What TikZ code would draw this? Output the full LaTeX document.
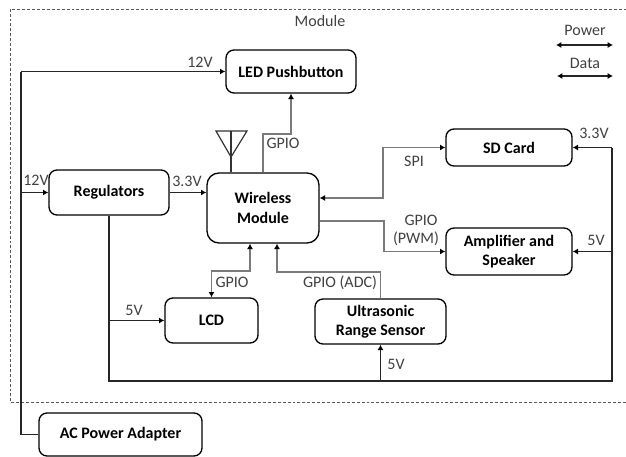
\documentclass[tikz,border=0pt]{standalone}
\usepackage{fontspec}
\setmainfont{Carlito}
\usetikzlibrary{arrows.meta}
\definecolor{labelc}{HTML}{404040}
\definecolor{datac}{HTML}{7A7A7A}
\tikzset{
  blockbox/.style={draw=black,line width=1pt,rounded corners=6pt,inner sep=0pt,align=center,font=\fontsize{12}{14.5}\selectfont\bfseries,text=black},
  lbl/.style={text=labelc,font=\fontsize{12}{14}\selectfont,inner sep=0pt},
  powerline/.style={draw=black!85,line width=1.3pt},
  dataline/.style={draw=datac,line width=0.9pt},
  tipend/.style={-{Latex[length=4pt,width=4.5pt,black]}},
  tipboth/.style={{Latex[length=4pt,width=4.5pt,black]}-{Latex[length=4pt,width=4.5pt,black]}}
}
\begin{document}
\begin{tikzpicture}[x=0.75pt,y=-0.75pt]
\useasboundingbox (0,0) rectangle (626,457);
\coordinate (mTL) at (10,9);
\coordinate (mTR) at (626,9);
\coordinate (mBL) at (10,402);
\coordinate (mBR) at (626,402);
\draw[draw=black!65,line width=0.6pt,dash pattern=on 2.2pt off 1.5pt] (mBR) -- (mBL) -- (mTL) -- (mTR);
\node[blockbox,minimum width=97.5pt,minimum height=32.25pt] (led) at (291,71.5) {LED Pushbutton};
\node[blockbox,minimum width=90pt,minimum height=33.75pt] (reg) at (109,192.5) {Regulators};
\node[blockbox,minimum width=84pt,minimum height=52.5pt,rounded corners=9pt] (wm) at (263,208) {Wireless\\Module};
\node[blockbox,minimum width=69.75pt,minimum height=33.75pt] (lcd) at (211.5,320.5) {LCD};
\node[blockbox,minimum width=98.25pt,minimum height=33.75pt] (us) at (380.5,321.5) {Ultrasonic\\Range Sensor};
\node[blockbox,minimum width=94.5pt,minimum height=27.75pt] (sd) at (509,147.5) {SD Card};
\node[blockbox,minimum width=94.5pt,minimum height=35.25pt] (amp) at (509,251.5) {Amplifier and\\Speaker};
\node[blockbox,minimum width=122.25pt,minimum height=32.25pt] (ac) at (120.5,434.5) {AC Power Adapter};
% power
\coordinate (pwrTop) at (21,71.5);
\coordinate (busL) at (109,381);
\coordinate (busR) at (612,381);
\draw[powerline] (ac.west) -- (ac.west -| pwrTop) -- (pwrTop);
\draw[powerline,tipend] (pwrTop) -- (led.west);
\draw[powerline,tipend] (reg.west -| pwrTop) -- (reg.west);
\draw[powerline,tipend] (reg.east) -- (reg.east -| wm.west);
\draw[powerline] (reg.south) -- (busL) -- (busR) -- (busR |- sd.east);
\draw[powerline,tipend] (busR |- sd.east) -- (sd.east);
\draw[powerline,tipend] (busR |- amp.east) -- (amp.east);
\draw[powerline,tipend] (reg.south |- lcd.west) -- (lcd.west);
\draw[powerline,tipend] (us.south |- busL) -- (us.south);
% antenna
\coordinate (antTop) at (231,131);
\coordinate (antL) at (216,131);
\coordinate (antR) at (247,131);
\coordinate (antTip) at (231,157);
\draw[draw=black!80,line width=0.9pt] (antL) -- (antR) -- (antTip) -- cycle;
\draw[draw=black!80,line width=0.9pt] (antTop) -- (antTop |- wm.north);
% data
\coordinate (gA) at (263,134);
\coordinate (gB) at (291,134);
\draw[dataline,tipend] (wm.north) -- (gA) -- (gB) -- (led.south);
\coordinate (spiA) at (383,198);
\coordinate (spiB) at (383,147.5);
\draw[dataline,tipboth] (wm.east |- spiA) -- (spiA) -- (spiB) -- (sd.west);
\coordinate (pwmA) at (384,221);
\coordinate (pwmB) at (384,251.5);
\draw[dataline,tipend] (wm.east |- pwmA) -- (pwmA) -- (pwmB) -- (amp.west);
\coordinate (lcdA) at (250,271);
\coordinate (lcdB) at (211.5,271);
\draw[dataline,tipboth] (lcdA |- wm.south) -- (lcdA) -- (lcdB) -- (lcd.north);
\coordinate (adcA) at (277,272);
\coordinate (adcB) at (380.5,272);
\draw[dataline,tipend] (us.north) -- (adcB) -- (adcA) -- (adcA |- wm.south);
% legend
\coordinate (legPL) at (556,45);
\coordinate (legPR) at (613,45);
\coordinate (legDL) at (557,76);
\coordinate (legDR) at (613,76);
\draw[powerline,tipboth] (legPL) -- (legPR);
\draw[draw=black!85,line width=0.8pt,tipboth] (legDL) -- (legDR);
% labels
\node[lbl] (tModule) at (320,21) {Module};
\node[lbl] (tPower) at (585,30) {Power};
\node[lbl] (tData) at (585,63) {Data};
\node[lbl] (t12a) at (200,62) {12V};
\node[lbl] (t12b) at (36,180) {12V};
\node[lbl] (t33a) at (187,181) {3.3V};
\node[lbl] (tG1) at (283,143) {GPIO};
\node[lbl] (tSPI) at (414,161) {SPI};
\node[lbl] (tG2) at (421,220) {GPIO};
\node[lbl] (tPWM) at (416,239) {(PWM)};
\node[lbl] (t33b) at (594,133) {3.3V};
\node[lbl] (t5a) at (596,240) {5V};
\node[lbl] (t5b) at (134,310) {5V};
\node[lbl] (tG3) at (232,282) {GPIO};
\node[lbl] (tADC) at (340,283) {GPIO (ADC)};
\node[lbl] (t5c) at (396,364) {5V};
\end{tikzpicture}
\end{document}
